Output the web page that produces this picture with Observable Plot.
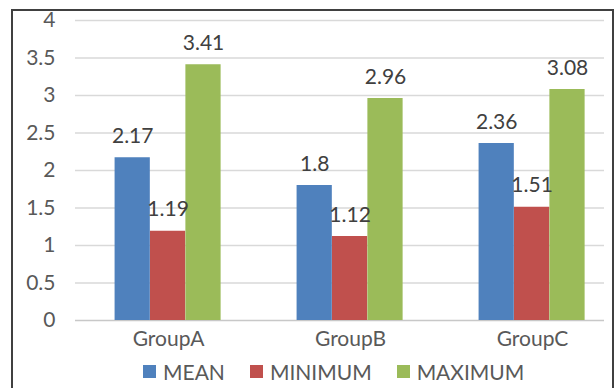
<!DOCTYPE html>
<html><head><meta charset="utf-8">
<script src="https://cdn.jsdelivr.net/npm/d3@7"></script>
<script src="https://cdn.jsdelivr.net/npm/@observablehq/plot@0.6"></script>
<style>
html,body{margin:0;padding:0;background:#fff;}
#wrap{position:relative;width:615px;height:388px;overflow:hidden;font-family:Lato,sans-serif;}
#wrap svg{position:absolute;left:0;top:0;}
#frame{position:absolute;left:11px;top:9px;width:603px;height:430px;border:2px solid #404040;box-sizing:border-box;pointer-events:none;}
#legend{position:absolute;left:143px;top:360.5px;display:flex;align-items:center;font-family:Lato,sans-serif;font-size:21px;line-height:21px;color:#595959;}
#legend .item{display:flex;align-items:center;margin-right:25px;}
#legend .sw{width:13px;height:13px;margin-right:7px;}
</style></head><body><div id="wrap"></div>
<script>
// ---- data ----
const groups = ["GroupA", "GroupB", "GroupC"];
const series = ["MEAN", "MINIMUM", "MAXIMUM"];
const meanValues = [2.17, 1.8, 2.36];
const minimumValues = [1.19, 1.12, 1.51];
const maximumValues = [3.41, 2.96, 3.08];
const yTicks = [0, 0.5, 1, 1.5, 2, 2.5, 3, 3.5, 4];
const colors = ["#4f81bd", "#c0504d", "#9bbb59"];

// ---- layout / style options ----
const W = 615, H = 388;
const xRange = [77.1, 623.6];
const bandwidth = (xRange[1] - xRange[0]) / groups.length;
const barWidth = 35.4;
const barOffsets = [-35.8, -0.4, 35.0];

const valuesBySeries = [meanValues, minimumValues, maximumValues];
const rows = series.map((s, j) => groups.map((g, i) => ({group: g, series: s, value: valuesBySeries[j][i]})));

const marks = [
  Plot.ruleY(yTicks.filter(d => d > 0), {stroke: "#d9d9d9", strokeWidth: 1.5}),
  Plot.ruleY([0], {stroke: "#c8c8c8", strokeWidth: 1.5})
];
series.forEach((s, j) => {
  const off = barOffsets[j];
  marks.push(Plot.barY(rows[j], {
    x: "group", y: "value", fill: colors[j],
    insetLeft: bandwidth / 2 + off - barWidth / 2,
    insetRight: bandwidth / 2 - off - barWidth / 2
  }));
});
series.forEach((s, j) => {
  marks.push(Plot.text(rows[j], {
    x: "group", y: "value", text: d => String(d.value),
    dx: barOffsets[j], dy: -15, lineAnchor: "bottom",
    fill: "#404040", fontSize: 21, fontFamily: "Lato"
  }));
});
marks.push(Plot.axisY(yTicks, {tickSize: 0, tickPadding: 20, tickFormat: d => String(d), fontSize: 21, fontFamily: "Lato", color: "#595959", fill: "#595959", label: null}));
marks.push(Plot.axisX({tickSize: 0, tickPadding: 11, fontSize: 21, fontFamily: "Lato", fill: "#595959", label: null}));

const chart = Plot.plot({
  width: W, height: H,
  marginLeft: 75, marginRight: 11, marginTop: 20, marginBottom: 68,
  style: {background: "transparent", fontFamily: "Lato", overflow: "visible"},
  x: {type: "band", domain: groups, range: xRange, padding: 0},
  y: {domain: [0, 4]},
  marks
});

const wrap = document.getElementById("wrap");
wrap.appendChild(chart);
const frame = document.createElement("div");
frame.id = "frame";
wrap.appendChild(frame);

const legend = document.createElement("div");
legend.id = "legend";
series.forEach((s, j) => {
  const item = document.createElement("div");
  item.className = "item";
  const sw = document.createElement("div");
  sw.className = "sw";
  sw.style.background = colors[j];
  const t = document.createElement("span");
  t.textContent = s;
  item.appendChild(sw);
  item.appendChild(t);
  legend.appendChild(item);
});
wrap.appendChild(legend);
</script>
</body></html>
